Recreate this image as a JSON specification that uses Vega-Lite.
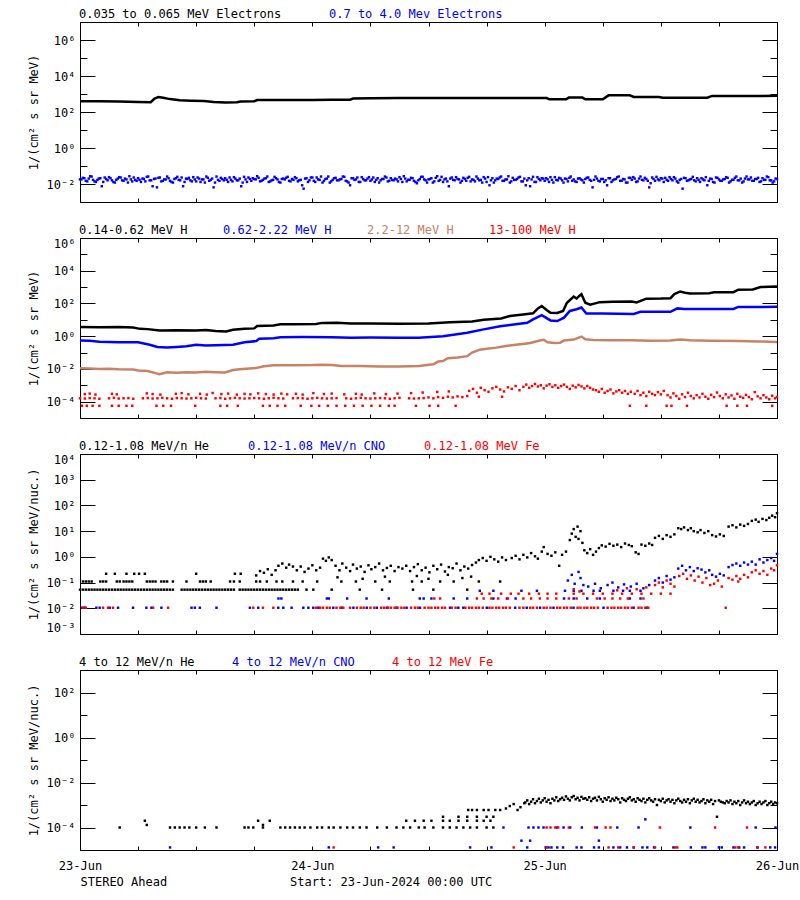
{
"$schema":"https://vega.github.io/schema/vega-lite/v6.json",
"background":"white",
"padding":{"left":26,"top":7,"right":0,"bottom":0},
"spacing":20,
"config":{
 "font":"DejaVu Sans Mono",
 "view":{"stroke":"black","strokeWidth":1},
 "axis":{"domainColor":"black","tickColor":"black","labelColor":"black","titleColor":"black","labelFont":"DejaVu Sans Mono","titleFont":"DejaVu Sans Mono","labelFontSize":12,"titleFontSize":12,"titleFontWeight":"normal","grid":false,"labelOverlap":false,"labelFlush":true,"tickWidth":1,"domainWidth":1},
 "legend":{"labelFont":"DejaVu Sans Mono","labelFontSize":12,"orient":"top","direction":"horizontal","symbolSize":0,"symbolOpacity":0,"symbolStrokeWidth":0,"labelOffset":-13,"offset":1,"padding":0,"labelLimit":0,"columnPadding":37}
},
"resolve":{"scale":{"color":"independent"},"legend":{"color":"independent"}},
"vconcat":[
{
 "width":697,"height":180,
 "encoding":{
  "x":{"field":"h","type":"quantitative","scale":{"domain":[0,72],"nice":false,"zero":false},"axis":{"values":[0,6,12,18,24,30,36,42,48,54,60,66,72],"labels":false,"tickSize":-4,"title":null}},
  "y":{"field":"v","type":"quantitative","scale":{"type":"log","domain":[0.001,10000000],"nice":false},"axis":{"values":[0.001,0.01,0.1,1,10,100,1000,10000,100000,1000000,10000000],"tickSize":{"condition":{"test":"round(log(datum.value)/LN10)%2==0","value":-15},"value":-7},"labelPadding":20,"labelExpr":"round(log(datum.value)/LN10)%2!=0?'':'10'+['⁻⁵','⁻⁴','⁻³','⁻²','⁻¹','⁰','¹','²','³','⁴','⁵','⁶','⁷'][round(log(datum.value)/LN10)+5]","title":"1/(cm² s sr MeV)","titlePadding":6}}
 },
 "layer":[
  {"layer":[
   {"data":{"name":"p1a"},"mark":{"type":"line","strokeWidth":2.5},"encoding":{"color":{"datum":"0.035 to 0.065 MeV Electrons","type":"nominal","scale":{"domain":["0.035 to 0.065 MeV Electrons","0.7 to 4.0 Mev Electrons"],"range":["#000000","#0000ff"]},"legend":{"title":null,"columnPadding":47,"encode":{"labels":{"update":{"fill":{"signal":"['#000000','#0000ff'][datum.index]"}}}}}}}},
   {"data":{"name":"p1b"},"mark":{"type":"square","size":6,"opacity":1},"encoding":{"color":{"datum":"0.7 to 4.0 Mev Electrons","type":"nominal"}}}
  ]},
  {"data":{"name":"p1a"},"mark":{"type":"point","opacity":0},"encoding":{
   "x":{"field":"h","type":"quantitative","scale":{"domain":[0,72],"nice":false,"zero":false},"axis":{"orient":"top","values":[0,6,12,18,24,30,36,42,48,54,60,66,72],"labels":false,"tickSize":-4,"title":null}},
   "y":{"field":"v","type":"quantitative","scale":{"type":"log","domain":[0.001,10000000],"nice":false},"axis":{"orient":"right","values":[0.001,0.01,0.1,1,10,100,1000,10000,100000,1000000,10000000],"labels":false,"tickSize":{"condition":{"test":"round(log(datum.value)/LN10)%2==0","value":-15},"value":-7},"title":null}}}}
 ],
 "resolve":{"axis":{"x":"independent","y":"independent"}}
},
{
 "width":697,"height":180,
 "encoding":{
  "x":{"field":"h","type":"quantitative","scale":{"domain":[0,72],"nice":false,"zero":false},"axis":{"values":[0,6,12,18,24,30,36,42,48,54,60,66,72],"labels":false,"tickSize":-4,"title":null}},
  "y":{"field":"v","type":"quantitative","scale":{"type":"log","domain":[0.00001,1000000],"nice":false},"axis":{"values":[0.00001,0.0001,0.001,0.01,0.1,1,10,100,1000,10000,100000,1000000],"tickSize":{"condition":{"test":"round(log(datum.value)/LN10)%2==0","value":-15},"value":-7},"labelPadding":20,"labelExpr":"round(log(datum.value)/LN10)%2!=0?'':'10'+['⁻⁵','⁻⁴','⁻³','⁻²','⁻¹','⁰','¹','²','³','⁴','⁵','⁶','⁷'][round(log(datum.value)/LN10)+5]","title":"1/(cm² s sr MeV)","titlePadding":6}}
 },
 "layer":[
  {"layer":[
   {"data":{"name":"p2a"},"mark":{"type":"line","strokeWidth":2.5},"encoding":{"color":{"datum":"0.14-0.62 MeV H","type":"nominal","scale":{"domain":["0.14-0.62 MeV H","0.62-2.22 MeV H","2.2-12 MeV H","13-100 MeV H"],"range":["#000000","#0000ff","#c88264","#ff0000"]},"legend":{"title":null,"columnPadding":35,"encode":{"labels":{"update":{"fill":{"signal":"['#000000','#0000ff','#c88264','#ff0000'][datum.index]"}}}}}}}},
   {"data":{"name":"p2b"},"mark":{"type":"line","strokeWidth":2.5},"encoding":{"color":{"datum":"0.62-2.22 MeV H","type":"nominal"}}},
   {"data":{"name":"p2c"},"mark":{"type":"line","strokeWidth":2.5},"encoding":{"color":{"datum":"2.2-12 MeV H","type":"nominal"}}},
   {"data":{"name":"p2d"},"mark":{"type":"square","size":6,"opacity":1},"encoding":{"color":{"datum":"13-100 MeV H","type":"nominal"}}}
  ]},
  {"data":{"name":"p2a"},"mark":{"type":"point","opacity":0},"encoding":{
   "x":{"field":"h","type":"quantitative","scale":{"domain":[0,72],"nice":false,"zero":false},"axis":{"orient":"top","values":[0,6,12,18,24,30,36,42,48,54,60,66,72],"labels":false,"tickSize":-4,"title":null}},
   "y":{"field":"v","type":"quantitative","scale":{"type":"log","domain":[0.00001,1000000],"nice":false},"axis":{"orient":"right","values":[0.00001,0.0001,0.001,0.01,0.1,1,10,100,1000,10000,100000,1000000],"labels":false,"tickSize":{"condition":{"test":"round(log(datum.value)/LN10)%2==0","value":-15},"value":-7},"title":null}}}}
 ],
 "resolve":{"axis":{"x":"independent","y":"independent"}}
},
{
 "width":697,"height":180,
 "encoding":{
  "x":{"field":"h","type":"quantitative","scale":{"domain":[0,72],"nice":false,"zero":false},"axis":{"values":[0,6,12,18,24,30,36,42,48,54,60,66,72],"labels":false,"tickSize":-4,"title":null}},
  "y":{"field":"v","type":"quantitative","scale":{"type":"log","domain":[0.001,10000],"nice":false},"axis":{"values":[0.001,0.01,0.1,1,10,100,1000,10000],"tickSize":-15,"labelPadding":20,"labelExpr":"'10'+['⁻⁵','⁻⁴','⁻³','⁻²','⁻¹','⁰','¹','²','³','⁴','⁵','⁶','⁷'][round(log(datum.value)/LN10)+5]","title":"1/(cm² s sr MeV/nuc.)","titlePadding":6}}
 },
 "layer":[
  {"layer":[
   {"data":{"name":"p3a"},"mark":{"type":"square","size":6,"opacity":1},"encoding":{"color":{"datum":"0.12-1.08 MeV/n He","type":"nominal","scale":{"domain":["0.12-1.08 MeV/n He","0.12-1.08 MeV/n CNO","0.12-1.08 MeV Fe"],"range":["#000000","#0000ff","#ff0000"]},"legend":{"title":null,"columnPadding":38,"encode":{"labels":{"update":{"fill":{"signal":"['#000000','#0000ff','#ff0000'][datum.index]"}}}}}}}},
   {"data":{"name":"p3b"},"mark":{"type":"square","size":6,"opacity":1},"encoding":{"color":{"datum":"0.12-1.08 MeV/n CNO","type":"nominal"}}},
   {"data":{"name":"p3c"},"mark":{"type":"square","size":6,"opacity":1},"encoding":{"color":{"datum":"0.12-1.08 MeV Fe","type":"nominal"}}}
  ]},
  {"data":{"name":"p3a"},"mark":{"type":"point","opacity":0},"encoding":{
   "x":{"field":"h","type":"quantitative","scale":{"domain":[0,72],"nice":false,"zero":false},"axis":{"orient":"top","values":[0,6,12,18,24,30,36,42,48,54,60,66,72],"labels":false,"tickSize":-4,"title":null}},
   "y":{"field":"v","type":"quantitative","scale":{"type":"log","domain":[0.001,10000],"nice":false},"axis":{"orient":"right","values":[0.001,0.01,0.1,1,10,100,1000,10000],"labels":false,"tickSize":-15,"title":null}}}}
 ],
 "resolve":{"axis":{"x":"independent","y":"independent"}}
},
{
 "width":697,"height":180,
 "encoding":{
  "x":{"field":"h","type":"quantitative","scale":{"domain":[0,72],"nice":false,"zero":false},"axis":{"values":[0,6,12,18,24,30,36,42,48,54,60,66,72],"labelFlush":false,"tickSize":-4,"labelPadding":14,"labelExpr":"datum.value==0?'23-Jun':datum.value==24?'24-Jun':datum.value==48?'25-Jun':datum.value==72?'26-Jun':''","title":"STEREO Ahead\u00a0\u00a0\u00a0\u00a0\u00a0\u00a0\u00a0\u00a0\u00a0\u00a0\u00a0\u00a0\u00a0\u00a0\u00a0\u00a0\u00a0Start: 23-Jun-2024 00:00 UTC","titleAnchor":"start","titleAlign":"left","titlePadding":5}},
  "y":{"field":"v","type":"quantitative","scale":{"type":"log","domain":[0.00001,1000],"nice":false},"axis":{"values":[0.00001,0.0001,0.001,0.01,0.1,1,10,100,1000],"tickSize":{"condition":{"test":"round(log(datum.value)/LN10)%2==0","value":-15},"value":-7},"labelPadding":20,"labelExpr":"round(log(datum.value)/LN10)%2!=0?'':'10'+['⁻⁵','⁻⁴','⁻³','⁻²','⁻¹','⁰','¹','²','³','⁴','⁵','⁶','⁷'][round(log(datum.value)/LN10)+5]","title":"1/(cm² s sr MeV/nuc.)","titlePadding":6}}
 },
 "layer":[
  {"layer":[
   {"data":{"name":"p4a"},"mark":{"type":"square","size":6,"opacity":1},"encoding":{"color":{"datum":"4 to 12 MeV/n He","type":"nominal","scale":{"domain":["4 to 12 MeV/n He","4 to 12 MeV/n CNO","4 to 12 MeV Fe"],"range":["#000000","#0000ff","#ff0000"]},"legend":{"title":null,"columnPadding":37,"encode":{"labels":{"update":{"fill":{"signal":"['#000000','#0000ff','#ff0000'][datum.index]"}}}}}}}},
   {"data":{"name":"p4b"},"mark":{"type":"square","size":6,"opacity":1},"encoding":{"color":{"datum":"4 to 12 MeV/n CNO","type":"nominal"}}},
   {"data":{"name":"p4c"},"mark":{"type":"square","size":6,"opacity":1},"encoding":{"color":{"datum":"4 to 12 MeV Fe","type":"nominal"}}}
  ]},
  {"data":{"name":"p4a"},"mark":{"type":"point","opacity":0},"encoding":{
   "x":{"field":"h","type":"quantitative","scale":{"domain":[0,72],"nice":false,"zero":false},"axis":{"orient":"top","values":[0,6,12,18,24,30,36,42,48,54,60,66,72],"labels":false,"tickSize":-4,"title":null}},
   "y":{"field":"v","type":"quantitative","scale":{"type":"log","domain":[0.00001,1000],"nice":false},"axis":{"orient":"right","values":[0.00001,0.0001,0.001,0.01,0.1,1,10,100,1000],"labels":false,"tickSize":{"condition":{"test":"round(log(datum.value)/LN10)%2==0","value":-15},"value":-7},"title":null}}}}
 ],
 "resolve":{"axis":{"x":"independent","y":"independent"}}
}
],
"datasets":{
"p1a":[{"h":0,"v":390},{"h":2,"v":395},{"h":4,"v":380},{"h":6,"v":365},{"h":7.3,"v":350},{"h":7.7,"v":560},{"h":8.1,"v":680},{"h":8.6,"v":620},{"h":9.3,"v":520},{"h":10.3,"v":450},{"h":11.5,"v":425},{"h":12.8,"v":410},{"h":13.8,"v":360},{"h":15,"v":340},{"h":16.2,"v":345},{"h":16.6,"v":385},{"h":18,"v":395},{"h":18.3,"v":465},{"h":21,"v":465},{"h":24,"v":470},{"h":26,"v":475},{"h":27.9,"v":480},{"h":28.2,"v":560},{"h":30,"v":575},{"h":33,"v":595},{"h":36,"v":600},{"h":40,"v":600},{"h":44,"v":598},{"h":48.2,"v":598},{"h":48.5,"v":505},{"h":50.2,"v":505},{"h":50.5,"v":630},{"h":51.9,"v":630},{"h":52.2,"v":505},{"h":54,"v":505},{"h":54.6,"v":840},{"h":56.8,"v":850},{"h":57.2,"v":690},{"h":59.8,"v":680},{"h":60.2,"v":620},{"h":64.8,"v":625},{"h":65.3,"v":780},{"h":68,"v":770},{"h":72,"v":790}],
"p1b":[{"h":0,"v":0.018},{"h":0.3,"v":0.022},{"h":0.6,"v":0.015},{"h":0.9,"v":0.02},{"h":1.2,"v":0.026},{"h":1.5,"v":0.014},{"h":1.8,"v":0.017},{"h":2.1,"v":0.021},{"h":2.4,"v":0.013},{"h":2.7,"v":0.019},
{"h":3,"v":0.024},{"h":3.3,"v":0.016},{"h":3.6,"v":0.012},{"h":3.9,"v":0.02},{"h":4.2,"v":0.023},{"h":4.5,"v":0.015},{"h":4.8,"v":0.018},{"h":5.1,"v":0.027},{"h":5.4,"v":0.014},{"h":5.7,"v":0.017},
{"h":6,"v":0.021},{"h":6.3,"v":0.013},{"h":6.6,"v":0.019},{"h":6.9,"v":0.025},{"h":7.2,"v":0.016},{"h":7.5,"v":0.0075},{"h":7.8,"v":0.02},{"h":8.1,"v":0.022},{"h":8.4,"v":0.014},{"h":8.7,"v":0.018},
{"h":9,"v":0.026},{"h":9.3,"v":0.015},{"h":9.6,"v":0.012},{"h":9.9,"v":0.021},{"h":10.2,"v":0.017},{"h":10.5,"v":0.023},{"h":10.8,"v":0.013},{"h":11.1,"v":0.019},{"h":11.4,"v":0.016},{"h":11.7,"v":0.024},
{"h":12,"v":0.014},{"h":12.3,"v":0.02},{"h":12.6,"v":0.018},{"h":12.9,"v":0.012},{"h":13.2,"v":0.022},{"h":13.5,"v":0.017},{"h":13.8,"v":0.0065},{"h":14.1,"v":0.026},{"h":14.4,"v":0.015},{"h":14.7,"v":0.019},
{"h":15,"v":0.021},{"h":15.3,"v":0.013},{"h":15.6,"v":0.017},{"h":15.9,"v":0.024},{"h":16.2,"v":0.016},{"h":16.5,"v":0.02},{"h":16.8,"v":0.012},{"h":17.1,"v":0.018},{"h":17.4,"v":0.023},{"h":17.7,"v":0.015},
{"h":18,"v":0.019},{"h":18.3,"v":0.027},{"h":18.6,"v":0.014},{"h":18.9,"v":0.017},{"h":19.2,"v":0.021},{"h":19.5,"v":0.013},{"h":19.8,"v":0.016},{"h":20.1,"v":0.025},{"h":20.4,"v":0.018},{"h":20.7,"v":0.012},
{"h":21,"v":0.02},{"h":21.3,"v":0.022},{"h":21.6,"v":0.015},{"h":21.9,"v":0.019},{"h":22.2,"v":0.024},{"h":22.5,"v":0.014},{"h":22.8,"v":0.017},{"h":23.1,"v":0.0055},{"h":23.4,"v":0.021},{"h":23.7,"v":0.016},
{"h":24,"v":0.023},{"h":24.3,"v":0.013},{"h":24.6,"v":0.018},{"h":24.9,"v":0.026},{"h":25.2,"v":0.015},{"h":25.5,"v":0.02},{"h":25.8,"v":0.012},{"h":26.1,"v":0.017},{"h":26.4,"v":0.022},{"h":26.7,"v":0.016},
{"h":27,"v":0.019},{"h":27.3,"v":0.025},{"h":27.6,"v":0.014},{"h":27.9,"v":0.0085},{"h":28.2,"v":0.021},{"h":28.5,"v":0.018},{"h":28.8,"v":0.013},{"h":29.1,"v":0.024},{"h":29.4,"v":0.016},{"h":29.7,"v":0.02},
{"h":30,"v":0.015},{"h":30.3,"v":0.023},{"h":30.6,"v":0.017},{"h":30.9,"v":0.012},{"h":31.2,"v":0.019},{"h":31.5,"v":0.026},{"h":31.8,"v":0.014},{"h":32.1,"v":0.021},{"h":32.4,"v":0.016},{"h":32.7,"v":0.018},
{"h":33,"v":0.024},{"h":33.3,"v":0.013},{"h":33.6,"v":0.02},{"h":33.9,"v":0.017},{"h":34.2,"v":0.022},{"h":34.5,"v":0.015},{"h":34.8,"v":0.011},{"h":35.1,"v":0.019},{"h":35.4,"v":0.025},{"h":35.7,"v":0.016},
{"h":36,"v":0.018},{"h":36.3,"v":0.021},{"h":36.6,"v":0.014},{"h":36.9,"v":0.027},{"h":37.2,"v":0.017},{"h":37.5,"v":0.013},{"h":37.8,"v":0.02},{"h":38.1,"v":0.0075},{"h":38.4,"v":0.023},{"h":38.7,"v":0.016},
{"h":39,"v":0.019},{"h":39.3,"v":0.012},{"h":39.6,"v":0.022},{"h":39.9,"v":0.015},{"h":40.2,"v":0.025},{"h":40.5,"v":0.018},{"h":40.8,"v":0.014},{"h":41.1,"v":0.02},{"h":41.4,"v":0.017},{"h":41.7,"v":0.024},
{"h":42,"v":0.013},{"h":42.3,"v":0.0085},{"h":42.6,"v":0.021},{"h":42.9,"v":0.016},{"h":43.2,"v":0.019},{"h":43.5,"v":0.026},{"h":43.8,"v":0.015},{"h":44.1,"v":0.018},{"h":44.4,"v":0.012},{"h":44.7,"v":0.022},
{"h":45,"v":0.017},{"h":45.3,"v":0.023},{"h":45.6,"v":0.014},{"h":45.9,"v":0.02},{"h":46.2,"v":0.016},{"h":46.5,"v":0.0075},{"h":46.8,"v":0.025},{"h":47.1,"v":0.013},{"h":47.4,"v":0.019},{"h":47.7,"v":0.021},
{"h":48,"v":0.015},{"h":48.3,"v":0.018},{"h":48.6,"v":0.024},{"h":48.9,"v":0.012},{"h":49.2,"v":0.017},{"h":49.5,"v":0.022},{"h":49.8,"v":0.016},{"h":50.1,"v":0.02},{"h":50.4,"v":0.014},{"h":50.7,"v":0.026},
{"h":51,"v":0.018},{"h":51.3,"v":0.013},{"h":51.6,"v":0.021},{"h":51.9,"v":0.016},{"h":52.2,"v":0.019},{"h":52.5,"v":0.023},{"h":52.8,"v":0.015},{"h":53.1,"v":0.017},{"h":53.4,"v":0.02},{"h":53.7,"v":0.014},
{"h":54,"v":0.019},{"h":54.3,"v":0.016},{"h":54.6,"v":0.021},{"h":54.9,"v":0.013},{"h":55.2,"v":0.018},{"h":55.5,"v":0.024},{"h":55.8,"v":0.015},{"h":56.1,"v":0.019},{"h":56.4,"v":0.012},{"h":56.7,"v":0.022},
{"h":57,"v":0.017},{"h":57.3,"v":0.02},{"h":57.6,"v":0.014},{"h":57.9,"v":0.026},{"h":58.2,"v":0.016},{"h":58.5,"v":0.019},{"h":58.8,"v":0.0065},{"h":59.1,"v":0.023},{"h":59.4,"v":0.015},{"h":59.7,"v":0.018},
{"h":60,"v":0.021},{"h":60.3,"v":0.013},{"h":60.6,"v":0.017},{"h":60.9,"v":0.024},{"h":61.2,"v":0.016},{"h":61.5,"v":0.02},{"h":61.8,"v":0.012},{"h":62.1,"v":0.019},{"h":62.4,"v":0.022},{"h":62.7,"v":0.015},
{"h":63,"v":0.018},{"h":63.3,"v":0.025},{"h":63.6,"v":0.014},{"h":63.9,"v":0.017},{"h":64.2,"v":0.021},{"h":64.5,"v":0.016},{"h":64.8,"v":0.0085},{"h":65.1,"v":0.02},{"h":65.4,"v":0.013},{"h":65.7,"v":0.023},
{"h":66,"v":0.018},{"h":66.3,"v":0.015},{"h":66.6,"v":0.019},{"h":66.9,"v":0.022},{"h":67.2,"v":0.014},{"h":67.5,"v":0.017},{"h":67.8,"v":0.026},{"h":68.1,"v":0.016},{"h":68.4,"v":0.012},{"h":68.7,"v":0.02},
{"h":69,"v":0.018},{"h":69.3,"v":0.023},{"h":69.6,"v":0.015},{"h":69.9,"v":0.019},{"h":70.2,"v":0.013},{"h":70.5,"v":0.021},{"h":70.8,"v":0.017},{"h":71.1,"v":0.024},{"h":71.4,"v":0.016},{"h":71.7,"v":0.014},{"h":72,"v":0.019},
{"h":0.15,"v":0.018},{"h":0.45,"v":0.021},{"h":0.75,"v":0.014},{"h":1.05,"v":0.027},{"h":1.35,"v":0.017},{"h":1.65,"v":0.013},{"h":1.95,"v":0.02},{"h":2.25,"v":0.0075},{"h":2.55,"v":0.023},{"h":2.85,"v":0.016},
{"h":3.15,"v":0.021},{"h":3.45,"v":0.013},{"h":3.75,"v":0.017},{"h":4.05,"v":0.024},{"h":4.35,"v":0.016},{"h":4.65,"v":0.02},{"h":4.95,"v":0.012},{"h":5.25,"v":0.018},{"h":5.55,"v":0.023},{"h":5.85,"v":0.015},
{"h":6.15,"v":0.017},{"h":6.45,"v":0.02},{"h":6.75,"v":0.014},{"h":7.05,"v":0.026},{"h":7.35,"v":0.016},{"h":7.65,"v":0.019},{"h":7.95,"v":0.0065},{"h":8.25,"v":0.023},{"h":8.55,"v":0.015},{"h":8.85,"v":0.018},
{"h":9.15,"v":0.021},{"h":9.45,"v":0.013},{"h":9.75,"v":0.019},{"h":10.05,"v":0.025},{"h":10.35,"v":0.016},{"h":10.65,"v":0.0075},{"h":10.95,"v":0.02},{"h":11.25,"v":0.022},{"h":11.55,"v":0.014},{"h":11.85,"v":0.018},
{"h":12.15,"v":0.023},{"h":12.45,"v":0.013},{"h":12.75,"v":0.018},{"h":13.05,"v":0.026},{"h":13.35,"v":0.015},{"h":13.65,"v":0.02},{"h":13.95,"v":0.012},{"h":14.25,"v":0.017},{"h":14.55,"v":0.022},{"h":14.85,"v":0.016},
{"h":15.15,"v":0.017},{"h":15.45,"v":0.023},{"h":15.75,"v":0.014},{"h":16.05,"v":0.02},{"h":16.35,"v":0.016},{"h":16.65,"v":0.0075},{"h":16.95,"v":0.025},{"h":17.25,"v":0.013},{"h":17.55,"v":0.019},{"h":17.85,"v":0.021},
{"h":18.15,"v":0.018},{"h":18.45,"v":0.022},{"h":18.75,"v":0.015},{"h":19.05,"v":0.02},{"h":19.35,"v":0.026},{"h":19.65,"v":0.014},{"h":19.95,"v":0.017},{"h":20.25,"v":0.021},{"h":20.55,"v":0.013},{"h":20.85,"v":0.019},
{"h":21.15,"v":0.018},{"h":21.45,"v":0.025},{"h":21.75,"v":0.014},{"h":22.05,"v":0.017},{"h":22.35,"v":0.021},{"h":22.65,"v":0.016},{"h":22.95,"v":0.0085},{"h":23.25,"v":0.02},{"h":23.55,"v":0.013},{"h":23.85,"v":0.023},
{"h":24.15,"v":0.015},{"h":24.45,"v":0.023},{"h":24.75,"v":0.017},{"h":25.05,"v":0.012},{"h":25.35,"v":0.019},{"h":25.65,"v":0.026},{"h":25.95,"v":0.014},{"h":26.25,"v":0.021},{"h":26.55,"v":0.016},{"h":26.85,"v":0.018},
{"h":27.15,"v":0.026},{"h":27.45,"v":0.015},{"h":27.75,"v":0.012},{"h":28.05,"v":0.021},{"h":28.35,"v":0.017},{"h":28.65,"v":0.023},{"h":28.95,"v":0.013},{"h":29.25,"v":0.019},{"h":29.55,"v":0.016},{"h":29.85,"v":0.024},
{"h":30.15,"v":0.018},{"h":30.45,"v":0.013},{"h":30.75,"v":0.021},{"h":31.05,"v":0.016},{"h":31.35,"v":0.019},{"h":31.65,"v":0.023},{"h":31.95,"v":0.015},{"h":32.25,"v":0.017},{"h":32.55,"v":0.02},{"h":32.85,"v":0.014},
{"h":33.15,"v":0.019},{"h":33.45,"v":0.027},{"h":33.75,"v":0.014},{"h":34.05,"v":0.017},{"h":34.35,"v":0.021},{"h":34.65,"v":0.013},{"h":34.95,"v":0.016},{"h":35.25,"v":0.025},{"h":35.55,"v":0.018},{"h":35.85,"v":0.012},
{"h":36.15,"v":0.019},{"h":36.45,"v":0.012},{"h":36.75,"v":0.022},{"h":37.05,"v":0.015},{"h":37.35,"v":0.025},{"h":37.65,"v":0.018},{"h":37.95,"v":0.014},{"h":38.25,"v":0.02},{"h":38.55,"v":0.017},{"h":38.85,"v":0.024},
{"h":39.15,"v":0.018},{"h":39.45,"v":0.015},{"h":39.75,"v":0.019},{"h":40.05,"v":0.022},{"h":40.35,"v":0.014},{"h":40.65,"v":0.017},{"h":40.95,"v":0.026},{"h":41.25,"v":0.016},{"h":41.55,"v":0.012},{"h":41.85,"v":0.02},
{"h":42.15,"v":0.024},{"h":42.45,"v":0.016},{"h":42.75,"v":0.012},{"h":43.05,"v":0.02},{"h":43.35,"v":0.023},{"h":43.65,"v":0.015},{"h":43.95,"v":0.018},{"h":44.25,"v":0.027},{"h":44.55,"v":0.014},{"h":44.85,"v":0.017},
{"h":45.15,"v":0.019},{"h":45.45,"v":0.025},{"h":45.75,"v":0.014},{"h":46.05,"v":0.0085},{"h":46.35,"v":0.021},{"h":46.65,"v":0.018},{"h":46.95,"v":0.013},{"h":47.25,"v":0.024},{"h":47.55,"v":0.016},{"h":47.85,"v":0.02},
{"h":48.15,"v":0.021},{"h":48.45,"v":0.013},{"h":48.75,"v":0.017},{"h":49.05,"v":0.024},{"h":49.35,"v":0.016},{"h":49.65,"v":0.02},{"h":49.95,"v":0.012},{"h":50.25,"v":0.019},{"h":50.55,"v":0.022},{"h":50.85,"v":0.015},
{"h":51.15,"v":0.014},{"h":51.45,"v":0.02},{"h":51.75,"v":0.018},{"h":52.05,"v":0.012},{"h":52.35,"v":0.022},{"h":52.65,"v":0.017},{"h":52.95,"v":0.0065},{"h":53.25,"v":0.026},{"h":53.55,"v":0.015},{"h":53.85,"v":0.019},
{"h":54.15,"v":0.013},{"h":54.45,"v":0.0085},{"h":54.75,"v":0.021},{"h":55.05,"v":0.016},{"h":55.35,"v":0.019},{"h":55.65,"v":0.026},{"h":55.95,"v":0.015},{"h":56.25,"v":0.018},{"h":56.55,"v":0.012},{"h":56.85,"v":0.022},
{"h":57.15,"v":0.024},{"h":57.45,"v":0.013},{"h":57.75,"v":0.02},{"h":58.05,"v":0.017},{"h":58.35,"v":0.022},{"h":58.65,"v":0.015},{"h":58.95,"v":0.011},{"h":59.25,"v":0.019},{"h":59.55,"v":0.025},{"h":59.85,"v":0.016},
{"h":60.15,"v":0.02},{"h":60.45,"v":0.022},{"h":60.75,"v":0.015},{"h":61.05,"v":0.019},{"h":61.35,"v":0.024},{"h":61.65,"v":0.014},{"h":61.95,"v":0.017},{"h":62.25,"v":0.0055},{"h":62.55,"v":0.021},{"h":62.85,"v":0.016},
{"h":63.15,"v":0.019},{"h":63.45,"v":0.016},{"h":63.75,"v":0.021},{"h":64.05,"v":0.013},{"h":64.35,"v":0.018},{"h":64.65,"v":0.024},{"h":64.95,"v":0.015},{"h":65.25,"v":0.019},{"h":65.55,"v":0.012},{"h":65.85,"v":0.022},
{"h":66.15,"v":0.015},{"h":66.45,"v":0.018},{"h":66.75,"v":0.024},{"h":67.05,"v":0.012},{"h":67.35,"v":0.017},{"h":67.65,"v":0.022},{"h":67.95,"v":0.016},{"h":68.25,"v":0.02},{"h":68.55,"v":0.014},{"h":68.85,"v":0.026},
{"h":69.15,"v":0.018},{"h":69.45,"v":0.015},{"h":69.75,"v":0.019},{"h":70.05,"v":0.022},{"h":70.35,"v":0.014},{"h":70.65,"v":0.017},{"h":70.95,"v":0.026},{"h":71.25,"v":0.016},{"h":71.55,"v":0.012},{"h":71.85,"v":0.02}],
"p2a":[{"h":0,"v":3.6},{"h":2,"v":3.5},{"h":4,"v":3.6},{"h":5.5,"v":3.4},{"h":6.2,"v":2.8},{"h":7,"v":2.7},{"h":8.2,"v":2.2},{"h":10,"v":2.3},{"h":12,"v":2.2},{"h":13,"v":2.4},{"h":14,"v":2.1},{"h":15.1,"v":1.95},{"h":15.8,"v":2.5},{"h":17,"v":2.8},{"h":18,"v":3.0},{"h":18.3,"v":4.2},{"h":20,"v":4.5},{"h":20.7,"v":5.3},{"h":22,"v":5.3},{"h":24.4,"v":5.6},{"h":25,"v":6.5},{"h":26.5,"v":6.6},{"h":28,"v":6.0},{"h":30,"v":5.9},{"h":33,"v":5.8},{"h":36,"v":6.0},{"h":38.2,"v":7.2},{"h":40.5,"v":7.8},{"h":41.7,"v":10},{"h":43.5,"v":12},{"h":44.4,"v":17},{"h":46,"v":22},{"h":46.8,"v":25},{"h":47.3,"v":50},{"h":47.7,"v":70},{"h":48.2,"v":40},{"h":48.6,"v":27},{"h":49.3,"v":26},{"h":49.9,"v":35},{"h":50.3,"v":110},{"h":50.7,"v":180},{"h":51.0,"v":260},{"h":51.3,"v":200},{"h":51.6,"v":300},{"h":51.8,"v":370},{"h":52.2,"v":110},{"h":52.7,"v":85},{"h":53.7,"v":120},{"h":55,"v":128},{"h":57,"v":130},{"h":57.5,"v":115},{"h":58.5,"v":195},{"h":60,"v":200},{"h":61,"v":210},{"h":61.4,"v":370},{"h":62,"v":540},{"h":62.5,"v":450},{"h":63,"v":410},{"h":65,"v":420},{"h":65.5,"v":480},{"h":67.5,"v":490},{"h":68,"v":700},{"h":69.5,"v":720},{"h":70.3,"v":1000},{"h":72,"v":1100}],
"p2b":[{"h":0,"v":0.55},{"h":1,"v":0.52},{"h":2,"v":0.45},{"h":4,"v":0.43},{"h":6,"v":0.42},{"h":7.2,"v":0.3},{"h":8,"v":0.22},{"h":9,"v":0.2},{"h":10,"v":0.22},{"h":11,"v":0.24},{"h":12,"v":0.3},{"h":13,"v":0.27},{"h":14,"v":0.28},{"h":15.8,"v":0.3},{"h":17,"v":0.42},{"h":18.2,"v":0.5},{"h":18.5,"v":0.7},{"h":20,"v":0.75},{"h":20.7,"v":0.85},{"h":23,"v":0.88},{"h":26,"v":0.87},{"h":28,"v":0.8},{"h":30,"v":0.82},{"h":33,"v":0.79},{"h":35,"v":0.8},{"h":37.5,"v":1.0},{"h":40,"v":1.6},{"h":41.7,"v":2.6},{"h":43.4,"v":4.1},{"h":46.2,"v":6.6},{"h":46.8,"v":10.6},{"h":47.7,"v":19.5},{"h":48.6,"v":9.2},{"h":49.3,"v":8.4},{"h":50,"v":13.5},{"h":50.6,"v":35},{"h":51.3,"v":44},{"h":51.8,"v":56},{"h":52.3,"v":24},{"h":54,"v":24},{"h":57.2,"v":23},{"h":57.9,"v":31},{"h":61,"v":31},{"h":61.7,"v":50},{"h":62.4,"v":46},{"h":65,"v":46},{"h":67.5,"v":46},{"h":68,"v":61},{"h":72,"v":62}],
"p2c":[{"h":0,"v":0.011},{"h":1,"v":0.0105},{"h":2,"v":0.0098},{"h":3,"v":0.0104},{"h":4,"v":0.0095},{"h":5.5,"v":0.0092},{"h":6,"v":0.008},{"h":7,"v":0.0075},{"h":7.8,"v":0.0055},{"h":8.2,"v":0.0048},{"h":9,"v":0.0062},{"h":10,"v":0.0058},{"h":11,"v":0.0063},{"h":12,"v":0.006},{"h":13,"v":0.0066},{"h":14,"v":0.0062},{"h":15,"v":0.006},{"h":15.8,"v":0.0085},{"h":16.5,"v":0.0095},{"h":17.5,"v":0.0105},{"h":18.2,"v":0.0115},{"h":19,"v":0.0145},{"h":20,"v":0.0165},{"h":21,"v":0.017},{"h":22,"v":0.0168},{"h":24,"v":0.0172},{"h":25,"v":0.018},{"h":26,"v":0.0175},{"h":27,"v":0.0152},{"h":29,"v":0.0148},{"h":31,"v":0.0142},{"h":33,"v":0.014},{"h":35,"v":0.015},{"h":36.5,"v":0.019},{"h":37,"v":0.028},{"h":37.5,"v":0.03},{"h":38,"v":0.045},{"h":39,"v":0.05},{"h":40,"v":0.06},{"h":40.5,"v":0.1},{"h":41.3,"v":0.15},{"h":42,"v":0.17},{"h":43,"v":0.2},{"h":44,"v":0.25},{"h":45,"v":0.3},{"h":46,"v":0.35},{"h":46.5,"v":0.38},{"h":47.5,"v":0.55},{"h":47.9,"v":0.6},{"h":48.3,"v":0.42},{"h":49,"v":0.38},{"h":49.6,"v":0.4},{"h":50,"v":0.55},{"h":51,"v":0.62},{"h":51.8,"v":0.95},{"h":52.2,"v":0.65},{"h":53,"v":0.58},{"h":55,"v":0.56},{"h":57,"v":0.57},{"h":59,"v":0.53},{"h":61,"v":0.55},{"h":62,"v":0.62},{"h":63,"v":0.56},{"h":65,"v":0.52},{"h":68,"v":0.5},{"h":70,"v":0.48},{"h":72,"v":0.44}],
"p2d":[{"h":0,"v":0.00016},{"h":0.5,"v":0.000155},{"h":1,"v":0.000165},{"h":1.5,"v":0.00016},{"h":2,"v":0.00015},{"h":3,"v":0.00016},{"h":3.5,"v":0.00017},{"h":4,"v":0.000155},{"h":4.5,"v":0.00016},{"h":5,"v":0.000165},{"h":5.5,"v":0.00015},{"h":6.5,"v":0.00016},{"h":7,"v":0.000165},{"h":7.5,"v":0.000155},{"h":8,"v":0.00016},{"h":8.5,"v":0.00017},{"h":9,"v":0.00016},{"h":9.5,"v":0.00015},{"h":10,"v":0.000165},{"h":10.5,"v":0.00016},{"h":11,"v":0.000155},{"h":11.5,"v":0.00016},{"h":12,"v":0.00017},{"h":12.5,"v":0.00016},{"h":13,"v":0.000155},{"h":14,"v":0.00016},{"h":14.5,"v":0.000165},{"h":15,"v":0.00015},{"h":15.5,"v":0.00016},{"h":16,"v":0.00017},{"h":16.5,"v":0.00016},{"h":17,"v":0.000155},{"h":17.5,"v":0.00016},{"h":18,"v":0.000165},{"h":18.5,"v":0.00016},{"h":19,"v":0.00015},{"h":19.5,"v":0.00016},{"h":20,"v":0.00017},{"h":20.5,"v":0.00016},{"h":21,"v":0.000155},{"h":22,"v":0.00016},{"h":22.5,"v":0.000165},{"h":23,"v":0.00016},{"h":23.5,"v":0.00015},{"h":24,"v":0.00016},{"h":24.5,"v":0.00017},{"h":25,"v":0.00016},{"h":25.5,"v":0.000155},{"h":26,"v":0.00016},{"h":26.5,"v":0.000165},{"h":27.5,"v":0.00016},{"h":28,"v":0.00015},{"h":28.5,"v":0.00016},{"h":29,"v":0.00017},{"h":29.5,"v":0.00016},{"h":30,"v":0.000155},{"h":30.5,"v":0.00016},{"h":31,"v":0.000165},{"h":31.5,"v":0.00016},{"h":32,"v":0.00015},{"h":32.5,"v":0.00016},{"h":33,"v":0.00017},{"h":34,"v":0.00016},{"h":34.5,"v":0.000155},{"h":35,"v":0.00016},{"h":35.5,"v":0.000165},{"h":36,"v":0.00018},{"h":36.5,"v":0.00016},{"h":37,"v":0.00019},{"h":37.5,"v":0.00017},{"h":38,"v":0.0002},{"h":38.5,"v":0.00018},{"h":39,"v":0.00021},{"h":39.5,"v":0.00019},{"h":40,"v":0.00022},
{"h":0.5,"v":0.00029},{"h":1.0,"v":0.00031},{"h":1.6,"v":0.00027},{"h":3.3,"v":0.0003},{"h":3.8,"v":0.00028},{"h":6.9,"v":0.00032},{"h":7.5,"v":0.00029},{"h":8.3,"v":0.00027},{"h":9.9,"v":0.0003},{"h":10.5,"v":0.00033},{"h":11.2,"v":0.00028},{"h":12.4,"v":0.0003},{"h":13.1,"v":0.00027},{"h":13.7,"v":0.00034},{"h":14.6,"v":0.00029},{"h":15.3,"v":0.00031},{"h":16.2,"v":0.00027},{"h":17.0,"v":0.0003},{"h":17.6,"v":0.00028},{"h":18.4,"v":0.00032},{"h":19.2,"v":0.00029},{"h":20.0,"v":0.00027},{"h":20.8,"v":0.00031},{"h":21.4,"v":0.00028},{"h":22.3,"v":0.0003},{"h":23.0,"v":0.00027},{"h":24.1,"v":0.00033},{"h":25.2,"v":0.00029},{"h":26.0,"v":0.00031},{"h":27.3,"v":0.00028},{"h":28.5,"v":0.0003},{"h":29.1,"v":0.00027},{"h":30.4,"v":0.00032},{"h":31.6,"v":0.00029},{"h":32.8,"v":0.00031},{"h":34.2,"v":0.00033},{"h":35.4,"v":0.00036},{"h":36.9,"v":0.00039},{"h":38.1,"v":0.00042},
{"h":0.2,"v":0.000056},{"h":0.7,"v":0.000056},{"h":1.3,"v":0.000056},{"h":2.0,"v":0.000056},{"h":3.3,"v":0.000056},{"h":4.0,"v":0.000056},{"h":4.8,"v":0.000056},{"h":5.4,"v":0.000056},{"h":7.9,"v":0.000056},{"h":8.6,"v":0.000056},{"h":9.4,"v":0.000056},{"h":11.9,"v":0.000056},{"h":14.5,"v":0.000056},{"h":15.2,"v":0.000056},{"h":16.3,"v":0.000056},{"h":18.9,"v":0.000056},{"h":19.6,"v":0.000056},{"h":20.4,"v":0.000056},{"h":21.2,"v":0.000056},{"h":22.8,"v":0.000056},{"h":23.9,"v":0.000056},{"h":24.7,"v":0.000056},{"h":25.6,"v":0.000056},{"h":26.5,"v":0.000056},{"h":27.4,"v":0.000056},{"h":28.3,"v":0.000056},{"h":29.2,"v":0.000056},{"h":30.1,"v":0.000056},{"h":31.0,"v":0.000056},{"h":31.9,"v":0.000056},{"h":32.5,"v":0.000056},{"h":34.7,"v":0.000056},{"h":36.1,"v":0.000056},{"h":37.0,"v":0.000056},{"h":38.8,"v":0.000056},{"h":56.8,"v":0.000056},{"h":58.5,"v":0.000056},{"h":60.6,"v":0.000056},{"h":61.1,"v":0.000056},{"h":62.7,"v":0.000056},{"h":66.8,"v":0.000056},{"h":67.9,"v":0.000056},{"h":68.9,"v":0.000056},{"h":71.5,"v":0.000056},
{"h":40.2,"v":0.00045},{"h":40.6,"v":0.0006},{"h":41.0,"v":0.00035},{"h":41.2,"v":0.0002},{"h":41.4,"v":0.0007},{"h":41.8,"v":0.0005},{"h":42.2,"v":0.0004},{"h":42.6,"v":0.00065},{"h":43.0,"v":0.0008},{"h":43.4,"v":0.00055},{"h":43.6,"v":0.0002},{"h":43.8,"v":0.00042},{"h":44.2,"v":0.00075},{"h":44.6,"v":0.0006},{"h":45.0,"v":0.0009},{"h":45.4,"v":0.0005},
{"h":45.8,"v":0.0008},{"h":46.1,"v":0.0011},{"h":46.4,"v":0.0007},{"h":46.7,"v":0.0009},{"h":47.0,"v":0.0012},{"h":47.3,"v":0.00085},{"h":47.6,"v":0.001},{"h":47.9,"v":0.00065},{"h":48.2,"v":0.00095},{"h":48.5,"v":0.00115},{"h":48.8,"v":0.0008},{"h":49.1,"v":0.001},{"h":49.4,"v":0.0007},{"h":49.7,"v":0.0009},{"h":50.0,"v":0.0011},{"h":50.3,"v":0.0008},{"h":50.6,"v":0.0006},{"h":50.9,"v":0.00095},{"h":51.2,"v":0.00075},{"h":51.5,"v":0.00105},{"h":51.8,"v":0.00085},{"h":52.1,"v":0.00065},{"h":52.4,"v":0.0009},{"h":52.7,"v":0.0007},{"h":53.0,"v":0.00055},
{"h":53.3,"v":0.0005},{"h":53.6,"v":0.0004},{"h":53.9,"v":0.0006},{"h":54.2,"v":0.00035},{"h":54.5,"v":0.00045},{"h":54.8,"v":0.00055},{"h":55.1,"v":0.00032},{"h":55.4,"v":0.00042},{"h":55.7,"v":0.0005},{"h":56.0,"v":0.00035},{"h":56.3,"v":0.00045},{"h":56.6,"v":0.0003},{"h":56.9,"v":0.0004},
{"h":57.3,"v":0.0003},{"h":57.6,"v":0.00045},{"h":57.9,"v":0.00025},{"h":58.2,"v":0.00035},{"h":58.5,"v":0.00022},{"h":58.8,"v":0.0004},{"h":59.1,"v":0.0003},{"h":59.4,"v":0.00025},{"h":59.7,"v":0.00038},{"h":60.0,"v":0.00028},{"h":60.3,"v":0.00045},
{"h":60.7,"v":0.00025},{"h":61.0,"v":0.00018},{"h":61.3,"v":0.00032},{"h":61.6,"v":0.00022},{"h":61.9,"v":0.00015},{"h":62.2,"v":0.00028},{"h":62.5,"v":0.00019},{"h":62.8,"v":0.00035},{"h":63.1,"v":0.00022},{"h":63.4,"v":0.00016},{"h":63.7,"v":0.00025},{"h":64.0,"v":0.00018},{"h":64.3,"v":0.0003},{"h":64.6,"v":0.0002},{"h":64.9,"v":0.00015},{"h":65.2,"v":0.00026},{"h":65.5,"v":0.00019},{"h":65.8,"v":0.00036},{"h":66.1,"v":0.00022},{"h":66.4,"v":0.00016},{"h":66.7,"v":0.00028},{"h":67.0,"v":0.00018},{"h":67.3,"v":0.00024},{"h":67.6,"v":0.00015},{"h":67.9,"v":0.0003},{"h":68.2,"v":0.0002},{"h":68.5,"v":0.00017},{"h":68.8,"v":0.00026},{"h":69.1,"v":0.00019},{"h":69.4,"v":0.00014},{"h":69.7,"v":0.00038},{"h":70.0,"v":0.00021},{"h":70.3,"v":0.00016},{"h":70.6,"v":0.00025},{"h":70.9,"v":0.00018},{"h":71.2,"v":0.00014},{"h":71.5,"v":0.00023},{"h":71.8,"v":0.00016},{"h":72.0,"v":0.00019}],
"p3a":[{"h":0,"v":0.053},{"h":0.3,"v":0.053},{"h":0.6,"v":0.053},{"h":0.9,"v":0.053},{"h":1.2,"v":0.053},{"h":1.5,"v":0.053},{"h":1.8,"v":0.053},{"h":2.1,"v":0.053},{"h":2.4,"v":0.053},{"h":2.7,"v":0.053},{"h":3,"v":0.053},{"h":3.3,"v":0.053},{"h":3.6,"v":0.053},{"h":3.9,"v":0.053},{"h":4.2,"v":0.053},{"h":4.5,"v":0.053},{"h":4.8,"v":0.053},{"h":5.1,"v":0.053},{"h":5.4,"v":0.053},{"h":5.7,"v":0.053},{"h":6,"v":0.053},{"h":6.3,"v":0.053},{"h":6.6,"v":0.053},{"h":6.9,"v":0.053},{"h":7.2,"v":0.053},{"h":7.5,"v":0.053},{"h":7.8,"v":0.053},{"h":8.1,"v":0.053},{"h":8.4,"v":0.053},{"h":8.7,"v":0.053},{"h":9,"v":0.053},{"h":9.3,"v":0.053},{"h":9.6,"v":0.053},{"h":10.5,"v":0.053},{"h":10.8,"v":0.053},{"h":11.1,"v":0.053},{"h":11.4,"v":0.053},{"h":11.7,"v":0.053},{"h":12,"v":0.053},{"h":12.3,"v":0.053},{"h":12.6,"v":0.053},{"h":12.9,"v":0.053},{"h":13.2,"v":0.053},{"h":13.5,"v":0.053},{"h":13.8,"v":0.053},{"h":14.1,"v":0.053},{"h":14.4,"v":0.053},{"h":14.7,"v":0.053},{"h":15,"v":0.053},{"h":15.3,"v":0.053},{"h":15.6,"v":0.053},{"h":15.9,"v":0.053},{"h":16.5,"v":0.053},{"h":16.8,"v":0.053},{"h":17.1,"v":0.053},{"h":17.4,"v":0.053},{"h":17.7,"v":0.053},{"h":18,"v":0.053},{"h":18.3,"v":0.053},{"h":18.6,"v":0.053},{"h":18.9,"v":0.053},{"h":19.2,"v":0.053},{"h":19.5,"v":0.053},{"h":19.8,"v":0.053},{"h":20.1,"v":0.053},{"h":20.4,"v":0.053},{"h":20.7,"v":0.053},{"h":21,"v":0.053},{"h":21.3,"v":0.053},{"h":21.6,"v":0.053},{"h":21.9,"v":0.053},{"h":22.2,"v":0.053},{"h":22.5,"v":0.053},{"h":23.4,"v":0.053},{"h":24.1,"v":0.053},{"h":26,"v":0.053},{"h":28.9,"v":0.053},{"h":31.2,"v":0.053},{"h":34.4,"v":0.053},{"h":36.5,"v":0.053},{"h":40,"v":0.053},
{"h":0.3,"v":0.11},{"h":0.6,"v":0.11},{"h":0.9,"v":0.11},{"h":1.2,"v":0.11},{"h":2.1,"v":0.11},{"h":2.4,"v":0.11},{"h":2.7,"v":0.11},{"h":3.8,"v":0.11},{"h":4.1,"v":0.11},{"h":4.5,"v":0.11},{"h":4.8,"v":0.11},{"h":5.1,"v":0.11},{"h":5.4,"v":0.11},{"h":6.9,"v":0.11},{"h":7.2,"v":0.11},{"h":7.5,"v":0.11},{"h":7.8,"v":0.11},{"h":8.4,"v":0.11},{"h":8.7,"v":0.11},{"h":9.0,"v":0.11},{"h":9.6,"v":0.11},{"h":11.0,"v":0.11},{"h":12.4,"v":0.11},{"h":12.7,"v":0.11},{"h":13.0,"v":0.11},{"h":13.5,"v":0.11},{"h":15.5,"v":0.11},{"h":15.9,"v":0.11},{"h":16.5,"v":0.11},{"h":18.2,"v":0.11},{"h":18.6,"v":0.11},{"h":19.3,"v":0.11},{"h":20.3,"v":0.11},{"h":20.9,"v":0.11},{"h":22.0,"v":0.11},{"h":23.0,"v":0.11},{"h":24.5,"v":0.11},{"h":27.0,"v":0.11},{"h":28.5,"v":0.11},{"h":30.5,"v":0.11},{"h":32.0,"v":0.11},{"h":34.3,"v":0.11},{"h":35.3,"v":0.11},{"h":37.2,"v":0.11},{"h":38.6,"v":0.11},{"h":41.2,"v":0.11},{"h":43.4,"v":0.11},
{"h":2.7,"v":0.22},{"h":3.6,"v":0.22},{"h":4.8,"v":0.22},{"h":5.6,"v":0.22},{"h":6.1,"v":0.22},{"h":6.7,"v":0.22},{"h":12.0,"v":0.22},{"h":16.0,"v":0.22},{"h":16.6,"v":0.22},
{"h":18.2,"v":0.19},{"h":18.6,"v":0.28},{"h":19.0,"v":0.24},{"h":19.4,"v":0.33},{"h":19.8,"v":0.2},{"h":20.2,"v":0.3},{"h":20.5,"v":0.45},{"h":20.9,"v":0.55},{"h":21.3,"v":0.38},{"h":21.6,"v":0.5},{"h":22.0,"v":0.42},{"h":22.4,"v":0.3},{"h":22.8,"v":0.42},{"h":23.2,"v":0.26},{"h":23.6,"v":0.35},{"h":24.0,"v":0.47},{"h":24.4,"v":0.3},{"h":24.8,"v":0.38},{"h":25.1,"v":0.85},{"h":25.4,"v":0.7},{"h":25.7,"v":0.95},{"h":26.0,"v":0.75},{"h":26.4,"v":0.45},{"h":26.6,"v":0.16},{"h":26.8,"v":0.3},{"h":27.1,"v":0.55},{"h":27.5,"v":0.38},{"h":27.9,"v":0.28},{"h":28.2,"v":0.5},{"h":28.6,"v":0.35},{"h":29.0,"v":0.42},{"h":29.2,"v":0.14},{"h":29.4,"v":0.26},{"h":29.8,"v":0.47},{"h":30.1,"v":0.33},{"h":30.5,"v":0.4},{"h":30.9,"v":0.55},{"h":31.3,"v":0.3},{"h":31.5,"v":0.17},{"h":31.7,"v":0.37},{"h":32.1,"v":0.45},{"h":32.5,"v":0.28},{"h":32.9,"v":0.4},
{"h":33.3,"v":0.35},{"h":33.7,"v":0.45},{"h":34.1,"v":0.28},{"h":34.5,"v":0.4},{"h":34.8,"v":0.18},{"h":34.9,"v":0.52},{"h":35.3,"v":0.3},{"h":35.7,"v":0.38},{"h":36.0,"v":0.14},{"h":36.1,"v":0.25},{"h":36.5,"v":0.45},{"h":36.9,"v":0.33},{"h":37.3,"v":0.5},{"h":37.7,"v":0.27},{"h":38.0,"v":0.2},{"h":38.1,"v":0.4},{"h":38.5,"v":0.36},{"h":38.9,"v":0.55},{"h":39.3,"v":0.3},{"h":39.5,"v":0.15},{"h":39.7,"v":0.42},{"h":40.1,"v":0.35},{"h":40.4,"v":0.17},{"h":40.5,"v":0.48},{"h":40.9,"v":0.6},
{"h":41.2,"v":0.75},{"h":41.6,"v":0.9},{"h":42.0,"v":0.7},{"h":42.4,"v":1.0},{"h":42.8,"v":0.8},{"h":43.2,"v":0.65},{"h":43.6,"v":0.95},{"h":44.0,"v":0.75},{"h":44.6,"v":0.9},{"h":45.0,"v":1.1},{"h":45.4,"v":0.8},{"h":45.8,"v":1.2},{"h":46.2,"v":0.95},{"h":46.6,"v":1.4},{"h":47.0,"v":1.05},{"h":47.3,"v":0.85},{"h":47.7,"v":1.6},{"h":47.9,"v":2.4},
{"h":48.3,"v":1.3},{"h":48.7,"v":1.1},{"h":49.1,"v":1.5},{"h":49.5,"v":0.45},{"h":49.8,"v":1.2},{"h":50.2,"v":1.6},{"h":50.6,"v":4.5},{"h":50.8,"v":8},{"h":51.0,"v":12},{"h":51.2,"v":6},{"h":51.4,"v":15},{"h":51.5,"v":5},{"h":51.7,"v":10},{"h":51.9,"v":3.5},
{"h":52.1,"v":1.8},{"h":52.4,"v":1.4},{"h":52.7,"v":2.0},{"h":53.0,"v":1.2},{"h":53.3,"v":1.6},{"h":53.6,"v":2.2},{"h":53.9,"v":2.8},{"h":54.3,"v":2.5},{"h":54.7,"v":3.2},{"h":55.1,"v":2.7},{"h":55.5,"v":3.0},{"h":55.9,"v":2.4},{"h":56.3,"v":3.3},{"h":56.7,"v":2.9},{"h":57.0,"v":2.6},{"h":57.4,"v":1.5},{"h":57.7,"v":1.3},{"h":58.0,"v":3.0},{"h":58.4,"v":2.7},{"h":58.8,"v":3.3},{"h":59.1,"v":2.9},
{"h":59.4,"v":5.5},{"h":59.8,"v":6.5},{"h":60.2,"v":5},{"h":60.6,"v":7},{"h":61.0,"v":6},{"h":61.4,"v":7.5},{"h":61.8,"v":13},{"h":62.1,"v":12},{"h":62.4,"v":14},{"h":62.8,"v":11},{"h":63.1,"v":13},{"h":63.4,"v":10},{"h":63.8,"v":9},{"h":64.1,"v":11},{"h":64.5,"v":8.5},{"h":64.9,"v":10},{"h":65.3,"v":7},{"h":65.7,"v":6.2},{"h":66.1,"v":7.5},{"h":66.5,"v":6.5},{"h":67.0,"v":15},{"h":67.4,"v":17},{"h":67.8,"v":14},{"h":68.2,"v":18},{"h":68.6,"v":16},{"h":69.0,"v":19},{"h":69.4,"v":25},{"h":69.8,"v":28},{"h":70.1,"v":23},{"h":70.5,"v":30},{"h":70.9,"v":27},{"h":71.2,"v":33},{"h":71.5,"v":40},{"h":71.8,"v":35},{"h":72.0,"v":50}],
"p3b":[{"h":0.24,"v":0.0105},{"h":0.52,"v":0.0105},{"h":1.69,"v":0.0105},{"h":2.03,"v":0.0105},{"h":3.07,"v":0.0105},{"h":3.93,"v":0.0105},{"h":5.48,"v":0.0105},{"h":6.86,"v":0.0105},{"h":7.38,"v":0.0105},{"h":8.41,"v":0.0105},{"h":11.52,"v":0.0105},{"h":11.86,"v":0.0105},{"h":12.38,"v":0.0105},{"h":14.1,"v":0.0105},{"h":17.55,"v":0.0105},{"h":18.41,"v":0.0105},{"h":20.48,"v":0.0105},{"h":21.0,"v":0.0105},{"h":21.86,"v":0.0105},{"h":23.07,"v":0.0105},{"h":23.59,"v":0.0105},{"h":24.1,"v":0.0105},{"h":24.62,"v":0.0105},{"h":26.17,"v":0.0105},{"h":27.03,"v":0.0105},{"h":28.24,"v":0.0105},{"h":29.62,"v":0.0105},{"h":30.66,"v":0.0105},{"h":31.69,"v":0.0105},{"h":32.72,"v":0.0105},{"h":33.74,"v":0.0105},{"h":35.12,"v":0.0105},{"h":38.22,"v":0.0105},{"h":39.08,"v":0.0105},{"h":39.6,"v":0.0105},{"h":42.02,"v":0.0105},{"h":44.95,"v":0.0105},{"h":46.15,"v":0.0105},{"h":47.53,"v":0.0105},{"h":48.91,"v":0.0105},{"h":50.98,"v":0.0105},{"h":54.08,"v":0.0105},{"h":57.19,"v":0.0105},{"h":58.57,"v":0.0105},
{"h":20.5,"v":0.024},{"h":20.8,"v":0.024},{"h":25.5,"v":0.024},{"h":25.7,"v":0.024},{"h":27.6,"v":0.024},{"h":29.6,"v":0.024},{"h":31.9,"v":0.024},{"h":35.1,"v":0.024},{"h":35.5,"v":0.024},{"h":36.3,"v":0.024},{"h":38.6,"v":0.024},{"h":40.0,"v":0.024},{"h":42.7,"v":0.024},{"h":44.1,"v":0.024},{"h":45.0,"v":0.024},{"h":50.0,"v":0.024},{"h":51.0,"v":0.024},{"h":52.4,"v":0.024},{"h":53.7,"v":0.024},{"h":56.8,"v":0.024},{"h":57.9,"v":0.024},
{"h":41.3,"v":0.048},{"h":42.7,"v":0.048},{"h":45.6,"v":0.048},{"h":47.2,"v":0.048},{"h":50.1,"v":0.048},{"h":51.0,"v":0.048},{"h":51.8,"v":0.048},{"h":53.05,"v":0.048},{"h":53.7,"v":0.048},{"h":55.1,"v":0.048},{"h":56.1,"v":0.048},{"h":56.8,"v":0.048},{"h":57.9,"v":0.048},
{"h":50.4,"v":0.12},{"h":50.8,"v":0.2},{"h":51.1,"v":0.09},{"h":51.5,"v":0.26},{"h":51.7,"v":0.15},{"h":52.0,"v":0.08},{"h":52.5,"v":0.07},{"h":53.2,"v":0.09},{"h":53.8,"v":0.06},{"h":54.5,"v":0.08},{"h":55.0,"v":0.1},{"h":55.6,"v":0.065},{"h":56.2,"v":0.085},{"h":56.9,"v":0.07},{"h":57.5,"v":0.09},{"h":58.2,"v":0.06},{"h":58.8,"v":0.08},
{"h":59.4,"v":0.12},{"h":59.8,"v":0.15},{"h":60.2,"v":0.1},{"h":60.6,"v":0.18},{"h":61.0,"v":0.13},{"h":61.4,"v":0.16},{"h":61.8,"v":0.35},{"h":62.2,"v":0.45},{"h":62.6,"v":0.3},{"h":63.0,"v":0.4},{"h":63.4,"v":0.28},{"h":63.8,"v":0.36},{"h":64.2,"v":0.32},{"h":64.6,"v":0.25},{"h":65.0,"v":0.3},{"h":65.3,"v":0.2},{"h":65.7,"v":0.17},{"h":66.1,"v":0.22},{"h":66.5,"v":0.19},{"h":67.0,"v":0.4},{"h":67.4,"v":0.48},{"h":67.8,"v":0.55},{"h":68.2,"v":0.45},{"h":68.6,"v":0.6},{"h":69.0,"v":0.5},{"h":69.4,"v":0.65},{"h":69.8,"v":0.5},{"h":70.2,"v":0.8},{"h":70.6,"v":0.6},{"h":71.0,"v":0.75},{"h":71.4,"v":0.9},{"h":71.7,"v":0.7},{"h":72.0,"v":1.3}],
"p3c":[{"h":0.31,"v":0.0105},{"h":0.6,"v":0.0105},{"h":2.38,"v":0.0105},{"h":2.9,"v":0.0105},{"h":3.41,"v":0.0105},{"h":7.55,"v":0.0105},{"h":9.1,"v":0.0105},{"h":17.9,"v":0.0105},{"h":18.9,"v":0.0105},{"h":19.97,"v":0.0105},{"h":24.4,"v":0.0105},{"h":24.8,"v":0.0105},{"h":25.1,"v":0.0105},{"h":25.5,"v":0.0105},{"h":25.8,"v":0.0105},{"h":26.5,"v":0.0105},{"h":26.9,"v":0.0105},{"h":27.2,"v":0.0105},{"h":27.9,"v":0.0105},{"h":28.6,"v":0.0105},{"h":29.0,"v":0.0105},{"h":29.3,"v":0.0105},{"h":30.0,"v":0.0105},{"h":30.4,"v":0.0105},{"h":31.1,"v":0.0105},{"h":31.4,"v":0.0105},{"h":31.8,"v":0.0105},{"h":32.1,"v":0.0105},{"h":32.5,"v":0.0105},{"h":32.8,"v":0.0105},{"h":33.2,"v":0.0105},{"h":33.5,"v":0.0105},{"h":34.2,"v":0.0105},{"h":34.6,"v":0.0105},{"h":34.9,"v":0.0105},{"h":35.6,"v":0.0105},{"h":36.0,"v":0.0105},{"h":36.3,"v":0.0105},{"h":36.7,"v":0.0105},{"h":37.0,"v":0.0105},{"h":37.4,"v":0.0105},{"h":37.7,"v":0.0105},{"h":38.4,"v":0.0105},{"h":38.8,"v":0.0105},{"h":39.8,"v":0.0105},{"h":40.2,"v":0.0105},{"h":40.5,"v":0.0105},{"h":40.9,"v":0.0105},{"h":41.2,"v":0.0105},{"h":41.6,"v":0.0105},{"h":42.3,"v":0.0105},{"h":42.6,"v":0.0105},{"h":43.0,"v":0.0105},{"h":43.3,"v":0.0105},{"h":43.7,"v":0.0105},{"h":44.0,"v":0.0105},{"h":44.4,"v":0.0105},{"h":45.4,"v":0.0105},{"h":45.8,"v":0.0105},{"h":46.5,"v":0.0105},{"h":46.8,"v":0.0105},{"h":47.2,"v":0.0105},{"h":47.9,"v":0.0105},{"h":48.2,"v":0.0105},{"h":48.6,"v":0.0105},{"h":49.3,"v":0.0105},{"h":49.6,"v":0.0105},{"h":50.0,"v":0.0105},{"h":50.3,"v":0.0105},{"h":50.7,"v":0.0105},{"h":51.4,"v":0.0105},{"h":51.7,"v":0.0105},{"h":52.1,"v":0.0105},{"h":52.4,"v":0.0105},{"h":52.8,"v":0.0105},{"h":53.1,"v":0.0105},{"h":53.5,"v":0.0105},{"h":54.5,"v":0.0105},{"h":54.9,"v":0.0105},{"h":55.2,"v":0.0105},{"h":55.6,"v":0.0105},{"h":55.9,"v":0.0105},{"h":56.3,"v":0.0105},{"h":56.6,"v":0.0105},{"h":57.0,"v":0.0105},{"h":57.7,"v":0.0105},{"h":58.0,"v":0.0105},{"h":58.4,"v":0.0105},{"h":58.7,"v":0.0105},{"h":66.7,"v":0.0105},
{"h":36.6,"v":0.024},{"h":37.2,"v":0.024},{"h":41.0,"v":0.024},{"h":41.7,"v":0.024},{"h":42.5,"v":0.024},{"h":43.2,"v":0.024},{"h":44.2,"v":0.024},{"h":45.8,"v":0.024},{"h":46.6,"v":0.024},{"h":47.5,"v":0.024},{"h":48.3,"v":0.024},{"h":49.2,"v":0.024},{"h":50.5,"v":0.024},{"h":51.3,"v":0.024},{"h":53.4,"v":0.024},{"h":54.2,"v":0.024},{"h":55.0,"v":0.024},{"h":55.8,"v":0.024},{"h":56.6,"v":0.024},{"h":58.2,"v":0.024},
{"h":41.5,"v":0.037},{"h":42.3,"v":0.037},{"h":43.5,"v":0.037},{"h":44.5,"v":0.037},{"h":45.3,"v":0.037},{"h":46.4,"v":0.037},{"h":47.4,"v":0.037},{"h":48.3,"v":0.037},{"h":49.2,"v":0.037},{"h":51.0,"v":0.037},{"h":52.0,"v":0.037},{"h":53.0,"v":0.037},{"h":54.0,"v":0.037},{"h":55.0,"v":0.037},{"h":56.0,"v":0.037},{"h":57.0,"v":0.037},{"h":58.0,"v":0.037},{"h":59.0,"v":0.037},{"h":60.0,"v":0.037},{"h":61.0,"v":0.037},
{"h":51.0,"v":0.055},{"h":51.6,"v":0.045},{"h":55.5,"v":0.05},{"h":56.5,"v":0.06},{"h":57.5,"v":0.055},{"h":58.5,"v":0.065},{"h":59.4,"v":0.08},{"h":59.8,"v":0.1},{"h":60.2,"v":0.065},{"h":60.6,"v":0.12},{"h":61.0,"v":0.09},{"h":61.4,"v":0.07},{"h":61.9,"v":0.18},{"h":62.3,"v":0.22},{"h":62.7,"v":0.14},{"h":63.1,"v":0.19},{"h":63.5,"v":0.12},{"h":63.9,"v":0.17},{"h":64.3,"v":0.1},{"h":64.7,"v":0.15},{"h":65.1,"v":0.08},{"h":65.5,"v":0.09},{"h":65.9,"v":0.12},{"h":66.3,"v":0.07},{"h":67.0,"v":0.15},{"h":67.4,"v":0.13},{"h":67.8,"v":0.18},{"h":68.0,"v":0.11},{"h":68.2,"v":0.14},{"h":68.6,"v":0.2},{"h":69.0,"v":0.16},{"h":69.4,"v":0.25},{"h":69.8,"v":0.3},{"h":70.2,"v":0.22},{"h":70.6,"v":0.28},{"h":71.0,"v":0.2},{"h":71.4,"v":0.35},{"h":71.7,"v":0.3},{"h":72.0,"v":0.47}],
"p4a":[{"h":4.1,"v":0.0001},{"h":9.3,"v":0.0001},{"h":9.8,"v":0.0001},{"h":10.3,"v":0.0001},{"h":10.8,"v":0.0001},{"h":11.3,"v":0.0001},{"h":12.0,"v":0.0001},{"h":12.9,"v":0.0001},{"h":14.1,"v":0.0001},{"h":17.0,"v":0.0001},{"h":17.4,"v":0.0001},{"h":17.9,"v":0.0001},{"h":18.9,"v":0.0001},{"h":20.7,"v":0.0001},{"h":21.2,"v":0.0001},{"h":21.7,"v":0.0001},{"h":22.2,"v":0.0001},{"h":22.7,"v":0.0001},{"h":23.2,"v":0.0001},{"h":23.8,"v":0.0001},{"h":24.5,"v":0.0001},{"h":25.0,"v":0.0001},{"h":25.7,"v":0.0001},{"h":26.2,"v":0.0001},{"h":26.9,"v":0.0001},{"h":27.6,"v":0.0001},{"h":28.2,"v":0.0001},{"h":28.9,"v":0.0001},{"h":29.6,"v":0.0001},{"h":30.7,"v":0.0001},{"h":31.7,"v":0.0001},{"h":32.7,"v":0.0001},{"h":33.4,"v":0.0001},{"h":34.1,"v":0.0001},{"h":35.0,"v":0.0001},{"h":35.6,"v":0.0001},{"h":36.5,"v":0.0001},{"h":37.5,"v":0.0001},{"h":38.2,"v":0.0001},{"h":38.9,"v":0.0001},{"h":39.6,"v":0.0001},{"h":40.3,"v":0.0001},{"h":41.0,"v":0.0001},{"h":42.0,"v":0.0001},{"h":42.7,"v":0.0001},
{"h":6.7,"v":0.0002},{"h":18.4,"v":0.0002},{"h":19.6,"v":0.0002},{"h":33.7,"v":0.0002},{"h":34.6,"v":0.0002},{"h":35.5,"v":0.0002},{"h":36.3,"v":0.0002},{"h":37.5,"v":0.0002},{"h":38.2,"v":0.0002},{"h":39.1,"v":0.0002},{"h":40.0,"v":0.0002},{"h":41.0,"v":0.0002},{"h":41.7,"v":0.0002},{"h":42.4,"v":0.0002},{"h":6.9,"v":0.00013},{"h":18.9,"v":0.00013},
{"h":37.5,"v":0.0003},{"h":39.1,"v":0.0003},{"h":40.0,"v":0.0003},{"h":41.0,"v":0.0003},{"h":42.0,"v":0.0003},{"h":42.7,"v":0.0003},{"h":40.1,"v":0.0006},{"h":40.5,"v":0.0006},{"h":41.0,"v":0.0006},{"h":41.7,"v":0.0006},{"h":42.2,"v":0.0006},{"h":42.9,"v":0.0006},{"h":43.4,"v":0.0006},
{"h":44.0,"v":0.0007},{"h":44.4,"v":0.0009},{"h":44.8,"v":0.0011},{"h":45.2,"v":0.0006},{"h":45.5,"v":0.0008},{"h":45.9,"v":0.0012},
{"h":46.0,"v":0.0013},{"h":46.2,"v":0.0016},{"h":46.4,"v":0.0011},{"h":46.6,"v":0.0014},{"h":46.8,"v":0.0018},{"h":47.0,"v":0.0012},{"h":47.2,"v":0.0015},{"h":47.4,"v":0.0019},{"h":47.6,"v":0.0013},{"h":47.8,"v":0.0016},{"h":48.0,"v":0.002},{"h":48.2,"v":0.0014},{"h":48.4,"v":0.0017},{"h":48.6,"v":0.0012},{"h":48.8,"v":0.0019},{"h":49.0,"v":0.0016},{"h":49.2,"v":0.0022},{"h":49.4,"v":0.0015},{"h":49.6,"v":0.0018},{"h":49.8,"v":0.0021},{"h":50.0,"v":0.0017},{"h":50.2,"v":0.0024},{"h":50.4,"v":0.0019},{"h":50.6,"v":0.0016},{"h":50.8,"v":0.0022},{"h":51.0,"v":0.0025},{"h":51.2,"v":0.0018},{"h":51.4,"v":0.0021},{"h":51.6,"v":0.0016},{"h":51.8,"v":0.0023},{"h":52.0,"v":0.0019},{"h":52.2,"v":0.002},{"h":52.4,"v":0.0017},{"h":52.6,"v":0.0022},{"h":52.8,"v":0.0015},{"h":53.0,"v":0.0019},{"h":53.2,"v":0.0021},{"h":53.4,"v":0.0016},{"h":53.6,"v":0.0023},{"h":53.8,"v":0.0018},{"h":54.0,"v":0.0014},{"h":54.2,"v":0.002},{"h":54.4,"v":0.0017},{"h":54.6,"v":0.0022},{"h":54.8,"v":0.0015},{"h":55.0,"v":0.0019},{"h":55.2,"v":0.0016},{"h":55.4,"v":0.0021},{"h":55.6,"v":0.0018},{"h":55.8,"v":0.0013},{"h":56.0,"v":0.002},{"h":56.2,"v":0.0017},{"h":56.4,"v":0.0015},{"h":56.6,"v":0.0019},{"h":56.8,"v":0.0022},{"h":57.0,"v":0.0016},{"h":57.2,"v":0.0018},{"h":57.4,"v":0.0014},{"h":57.6,"v":0.002},{"h":57.8,"v":0.0017},{"h":58.0,"v":0.0015},{"h":58.2,"v":0.0019},{"h":58.4,"v":0.0013},{"h":58.6,"v":0.0017},{"h":58.8,"v":0.002},{"h":59.0,"v":0.0016},{"h":59.2,"v":0.0014},{"h":59.4,"v":0.0018},{"h":59.6,"v":0.001},{"h":59.8,"v":0.0017},{"h":60.0,"v":0.0015},{"h":60.2,"v":0.0019},{"h":60.4,"v":0.0013},{"h":60.6,"v":0.0016},{"h":60.8,"v":0.0018},{"h":61.0,"v":0.0014},{"h":61.2,"v":0.0017},{"h":61.4,"v":0.0012},{"h":61.6,"v":0.0016},{"h":61.8,"v":0.0019},{"h":62.0,"v":0.0015},{"h":62.2,"v":0.0013},{"h":62.4,"v":0.0017},{"h":62.6,"v":0.0014},{"h":62.8,"v":0.0018},{"h":63.0,"v":0.0012},{"h":63.2,"v":0.0016},{"h":63.4,"v":0.0019},{"h":63.6,"v":0.0014},{"h":63.8,"v":0.0017},{"h":64.0,"v":0.0013},{"h":64.2,"v":0.0015},{"h":64.4,"v":0.0018},{"h":64.6,"v":0.0012},{"h":64.8,"v":0.0016},{"h":65.0,"v":0.0014},{"h":65.2,"v":0.0017},{"h":65.4,"v":0.0011},{"h":65.6,"v":0.0015},{"h":65.8,"v":0.0003},{"h":66.0,"v":0.0016},{"h":66.2,"v":0.0014},{"h":66.4,"v":0.0013},{"h":66.6,"v":0.0012},{"h":66.8,"v":0.0015},{"h":67.0,"v":0.0013},{"h":67.2,"v":0.0016},{"h":67.4,"v":0.0011},{"h":67.6,"v":0.0014},{"h":67.8,"v":0.0012},{"h":68.0,"v":0.0015},{"h":68.2,"v":0.001},{"h":68.4,"v":0.0013},{"h":68.6,"v":0.0016},{"h":68.8,"v":0.0012},{"h":69.0,"v":0.0014},{"h":69.2,"v":0.0011},{"h":69.4,"v":0.0013},{"h":69.6,"v":0.0015},{"h":69.8,"v":0.001},{"h":70.0,"v":0.0012},{"h":70.2,"v":0.0014},{"h":70.4,"v":0.0011},{"h":70.6,"v":0.0013},{"h":70.8,"v":0.0015},{"h":71.0,"v":0.001},{"h":71.2,"v":0.0012},{"h":71.4,"v":0.0014},{"h":71.6,"v":0.0011},{"h":71.8,"v":0.0013},{"h":72.0,"v":0.0012}],
"p4b":[{"h":9.3,"v":0.000013},{"h":25.7,"v":0.000013},{"h":30.8,"v":0.000013},{"h":32.4,"v":0.000013},{"h":40.3,"v":0.000013},{"h":42.5,"v":0.000013},{"h":46.2,"v":0.000013},{"h":48.1,"v":0.000013},{"h":48.4,"v":0.000013},{"h":48.7,"v":0.000013},{"h":49.3,"v":0.000013},{"h":49.9,"v":0.000013},{"h":51.3,"v":0.000013},{"h":51.8,"v":0.000013},{"h":53.1,"v":0.000013},{"h":53.6,"v":0.000013},{"h":55.1,"v":0.000013},{"h":55.8,"v":0.000013},{"h":56.5,"v":0.000013},{"h":57.2,"v":0.000013},{"h":58.1,"v":0.000013},{"h":58.6,"v":0.000013},{"h":59.3,"v":0.000013},{"h":61.3,"v":0.000013},{"h":63.1,"v":0.000013},{"h":64.3,"v":0.000013},{"h":64.6,"v":0.000013},{"h":66.0,"v":0.000013},{"h":66.3,"v":0.000013},{"h":67.5,"v":0.000013},{"h":68.1,"v":0.000013},{"h":68.6,"v":0.000013},{"h":70.0,"v":0.000013},{"h":71.3,"v":0.000013},{"h":71.8,"v":0.000013},
{"h":43.74,"v":0.0001},{"h":46.33,"v":0.0001},{"h":46.84,"v":0.0001},{"h":47.36,"v":0.0001},{"h":47.88,"v":0.0001},{"h":49.26,"v":0.0001},{"h":49.95,"v":0.0001},{"h":50.64,"v":0.0001},{"h":51.84,"v":0.0001},{"h":53.4,"v":0.0001},{"h":55.5,"v":0.0001},{"h":57.7,"v":0.0001},{"h":63.05,"v":0.0001},{"h":69.8,"v":0.0001},{"h":71.84,"v":0.0001},{"h":45.6,"v":0.000026},{"h":46.5,"v":0.000026},{"h":53.6,"v":0.000026},{"h":58.4,"v":0.00023}],
"p4c":[{"h":26.2,"v":0.000013},{"h":44.8,"v":0.000013},{"h":48.2,"v":0.000013},{"h":54.6,"v":0.000013},{"h":55.6,"v":0.000013},{"h":57.2,"v":0.000013},{"h":59.4,"v":0.000013},{"h":61.5,"v":0.000013},{"h":61.7,"v":0.000013},{"h":67.7,"v":0.000013},{"h":68.0,"v":0.000013},{"h":69.95,"v":0.000013},{"h":70.8,"v":0.000013},{"h":48.2,"v":0.0001},{"h":48.6,"v":0.0001},{"h":49.1,"v":0.0001},{"h":49.4,"v":0.0001},{"h":50.5,"v":0.0001},{"h":53.2,"v":0.0001},{"h":54.3,"v":0.0001},{"h":54.8,"v":0.0001},{"h":59.9,"v":0.0001},{"h":65.6,"v":0.0001},{"h":68.9,"v":0.0001}]
}
}
